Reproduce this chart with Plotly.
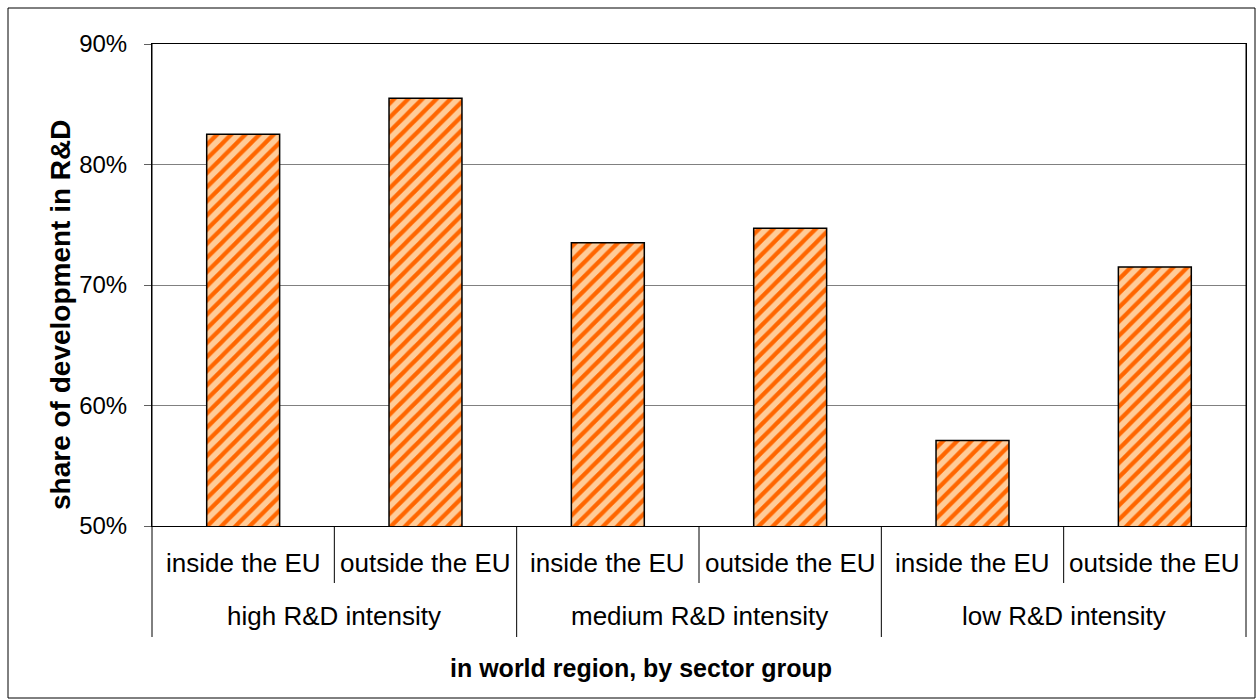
import plotly.graph_objects as go

# Sector groups (outer level) and world regions (inner level)
groups = ["high R&D intensity", "medium R&D intensity", "low R&D intensity"]
regions = ["inside the EU", "outside the EU"]

# Share of development carried out in R&D, in percent, group by group
shares = [82.5, 85.5, 73.5, 74.7, 57.1, 71.5]

y_ticks = [50, 60, 70, 80, 90]
y_tick_labels = [f"{v}%" for v in y_ticks]

# One category key per bar: group + region
keys = [f"{g} | {r}" for g in groups for r in regions]
region_of_key = [r for g in groups for r in regions]

FONT = "Arial, 'Liberation Sans', sans-serif"

fig = go.Figure()
fig.add_trace(go.Bar(
    x=keys,
    y=shares,
    marker=dict(
        color="#FFCC99",
        line=dict(color="black", width=1.5),
        pattern=dict(shape="/", fgcolor="#FF6600", bgcolor="#FFCC99",
                     size=10, solidity=0.42, fillmode="replace"),
    ),
    showlegend=False,
))

W, H = 1258, 700
L, R, T, B = 152, 12, 44, 174
plot_h = H - T - B


def py(pixel_y):
    """Paper y for a pixel row measured from the top of the page."""
    return (H - B - pixel_y) / plot_h


def px(pixel_x):
    return (pixel_x - L) / (W - L - R)


shapes = []
# outer frame of the chart
shapes.append(dict(type="rect", xref="paper", yref="paper",
                   x0=px(8), x1=px(1255), y0=py(698), y1=py(8),
                   line=dict(color="black", width=1), layer="below"))
# left and right edges continue down through both label rows
for xe in (0, 1):
    shapes.append(dict(type="line", xref="paper", yref="paper",
                       x0=xe, x1=xe, y0=1, y1=py(637),
                       line=dict(color="black", width=1)))
n = len(keys)
per_group = len(regions)
for b in range(1, n):
    boundary = b - 0.5
    bottom = py(637) if b % per_group == 0 else py(583)
    shapes.append(dict(type="line", xref="x", yref="paper",
                       x0=boundary, x1=boundary, y0=0, y1=bottom,
                       line=dict(color="black", width=1)))

annotations = []
# inner level labels
for k, r in zip(keys, region_of_key):
    annotations.append(dict(x=k, y=py(563), xref="x", yref="paper",
                            text=r, showarrow=False, yanchor="middle",
                            font=dict(family=FONT, size=26, color="black")))
# outer level labels, centred under each group
for gi, g in enumerate(groups):
    centre = gi * per_group + (per_group - 1) / 2
    annotations.append(dict(x=centre, y=py(616), xref="x", yref="paper",
                            text=g, showarrow=False, yanchor="middle",
                            font=dict(family=FONT, size=26, color="black")))
# axis titles
annotations.append(dict(x=px(641), y=py(668), xref="paper", yref="paper",
                        text="<b>in world region, by sector group</b>",
                        showarrow=False, yanchor="middle",
                        font=dict(family=FONT, size=25, color="black")))
annotations.append(dict(x=px(60), y=py(315), xref="paper", yref="paper",
                        text="<b>share of development in R&D</b>",
                        showarrow=False, textangle=-90,
                        xanchor="center", yanchor="middle",
                        font=dict(family=FONT, size=28, color="black")))

fig.update_layout(
    width=W, height=H,
    margin=dict(l=L, r=R, t=T, b=B, pad=0),
    paper_bgcolor="white", plot_bgcolor="white",
    bargap=0.6,
    shapes=shapes,
    annotations=annotations,
    font=dict(family=FONT, color="black"),
)
fig.update_xaxes(
    type="category", showticklabels=False, ticks="",
    showline=True, linecolor="black", linewidth=1, mirror=True,
    showgrid=False, fixedrange=True,
)
fig.update_yaxes(
    range=[50, 90], tickvals=y_ticks, ticktext=y_tick_labels,
    ticks="outside", ticklen=7, tickcolor="#606060",
    tickfont=dict(family=FONT, size=24, color="black"),
    ticklabelstandoff=12,
    showgrid=True, gridcolor="#808080", gridwidth=1,
    showline=True, linecolor="black", linewidth=1, mirror=True,
    zeroline=False, fixedrange=True,
)

fig.write_html("out.html")
